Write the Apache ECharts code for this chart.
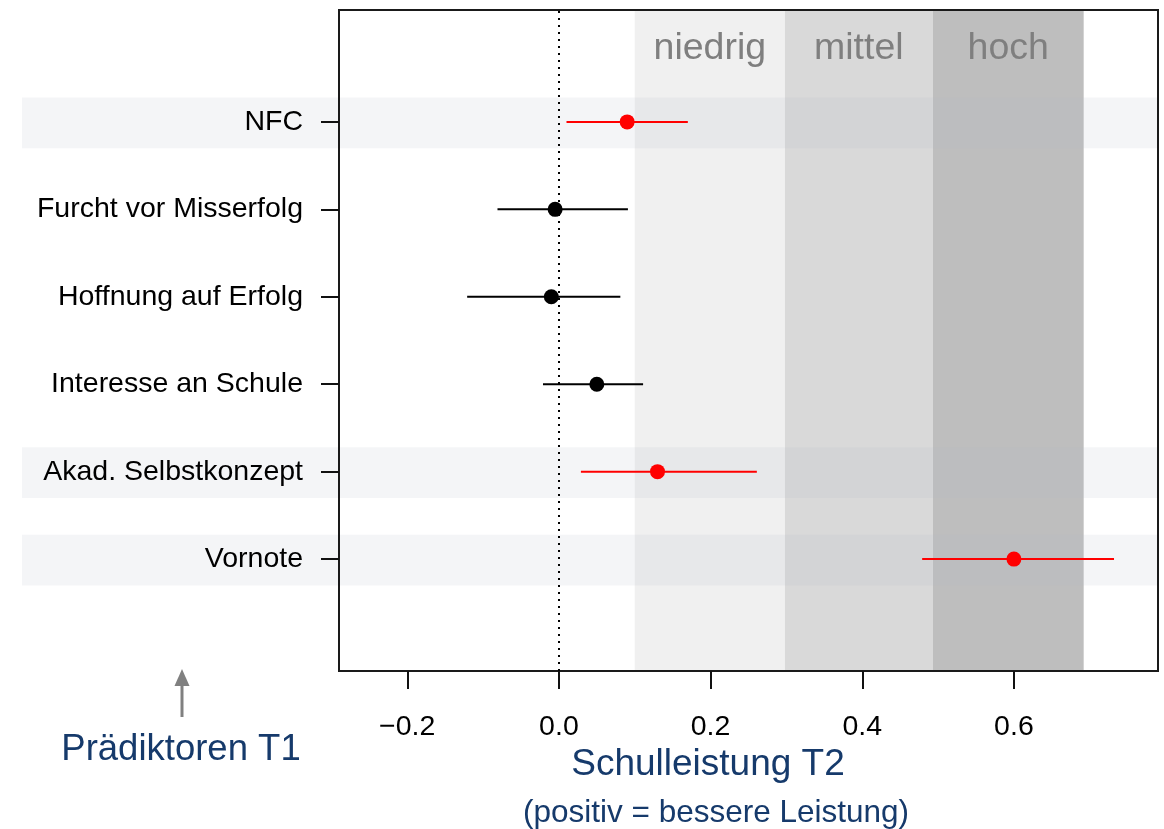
<!DOCTYPE html>
<html>
<head>
<meta charset="utf-8">
<script src="https://cdn.jsdelivr.net/npm/echarts@6/dist/echarts.min.js"></script>
<style>
html,body{margin:0;padding:0;background:#fff;}
#chart{width:1164px;height:829px;}
</style>
</head>
<body>
<div id="chart"></div>
<script>
// ---- data ----
const predictors = ['NFC', 'Furcht vor Misserfolg', 'Hoffnung auf Erfolg', 'Interesse an Schule', 'Akad. Selbstkonzept', 'Vornote'];
const rowPos = [6, 5, 4, 3, 2, 1];
const estimates = [0.09, -0.005, -0.01, 0.05, 0.13, 0.60];
const ciLower = [0.01, -0.081, -0.121, -0.021, 0.029, 0.479];
const ciUpper = [0.17, 0.091, 0.081, 0.111, 0.261, 0.732];
const significant = [1, 0, 0, 0, 1, 1];
const bandLabels = ['niedrig', 'mittel', 'hoch'];
const bandStart = [0.1, 0.298, 0.493];
const bandEnd = [0.298, 0.493, 0.692];
const xTicks = [-0.2, 0.0, 0.2, 0.4, 0.6];

const FONT = "'Liberation Sans', Arial, Helvetica, sans-serif";
const bandColors = ['#f0f0f0', '#d9d9d9', '#bebebe'];
const NAVY = '#163a6b';

const chart = echarts.init(document.getElementById('chart'), null, {renderer: 'canvas'});

const labelByPos = {};
rowPos.forEach((p, i) => { labelByPos[p] = predictors[i]; });

const option = {
  animation: false,
  grid: {left: 339, top: 10, right: 6, bottom: 158, show: true, borderColor: '#1a1a1a', borderWidth: 2, backgroundColor: 'transparent'},
  xAxis: {
    type: 'value', min: -0.29, max: 0.79,
    splitLine: {show: false},
    axisLine: {show: false, onZero: false},
    axisTick: {show: true, customValues: xTicks, length: 18, lineStyle: {color: '#111', width: 2}},
    axisLabel: {
      customValues: xTicks, fontSize: 28.5, color: '#000', margin: 42, fontFamily: FONT,
      formatter: v => (v < 0 ? '\u2212' + Math.abs(v).toFixed(1) : v.toFixed(1))
    }
  },
  yAxis: {
    type: 'value', min: -0.28, max: 7.28,
    splitLine: {show: false},
    axisLine: {show: false, onZero: false},
    axisTick: {show: true, customValues: rowPos, length: 18, lineStyle: {color: '#111', width: 2}},
    axisLabel: {
      customValues: rowPos, fontSize: 28.5, color: '#000', margin: 36, fontFamily: FONT,
      formatter: v => labelByPos[Math.round(v)] || ''
    }
  },
  series: [
    {
      name: 'bands', type: 'custom', z: -2, silent: true,
      data: bandStart.map((s, i) => [s, bandEnd[i], i]),
      encode: {x: [0, 1]},
      renderItem: (params, api) => {
        const cs = params.coordSys;
        const x0 = api.coord([api.value(0), 0])[0];
        const x1 = api.coord([api.value(1), 0])[0];
        const i = api.value(2);
        return {
          type: 'group',
          children: [
            {type: 'rect', shape: {x: x0, y: cs.y + 1, width: x1 - x0, height: cs.height - 2}, style: {fill: bandColors[i]}},
            {type: 'text', x: (x0 + x1) / 2, y: cs.y + 39,
             style: {text: bandLabels[i], fill: '#7f7f7f', font: '37.5px ' + FONT, align: 'center', verticalAlign: 'middle'}}
          ]
        };
      }
    },
    {
      name: 'highlight', type: 'custom', z: -1, silent: true, clip: false,
      data: rowPos.filter((p, i) => significant[i]).map(p => [0, p]),
      encode: {x: 0, y: 1},
      renderItem: (params, api) => {
        const cs = params.coordSys;
        const yc = api.coord([0, api.value(1)])[1];
        const h = api.size([0, 0.58])[1];
        return {type: 'rect', shape: {x: 22, y: yc - h / 2 + 1, width: cs.x + cs.width - 22, height: h},
                style: {fill: 'rgba(176,184,200,0.145)'}};
      }
    },
    {
      name: 'ci', type: 'custom', z: 3, silent: true,
      data: rowPos.map((p, i) => [ciLower[i], ciUpper[i], p, significant[i]]),
      encode: {x: [0, 1], y: 2},
      renderItem: (params, api) => {
        const a = api.coord([api.value(0), api.value(2)]);
        const b = api.coord([api.value(1), api.value(2)]);
        return {type: 'line', shape: {x1: a[0], y1: a[1], x2: b[0], y2: b[1]},
                style: {stroke: api.value(3) ? '#ff0000' : '#000', lineWidth: 2}};
      },
      markLine: {
        silent: true, symbol: ['none', 'none'], label: {show: false},
        lineStyle: {color: '#000', type: [2, 5], width: 2},
        data: [{xAxis: 0}]
      }
    },
    {
      name: 'estimate', type: 'scatter', z: 4, symbol: 'circle', symbolSize: 15,
      data: rowPos.map((p, i) => ({value: [estimates[i], p], itemStyle: {color: significant[i] ? '#ff0000' : '#000', opacity: 1}}))
    }
  ],
  graphic: [
    {type: 'line', shape: {x1: 182, y1: 717, x2: 182, y2: 684}, style: {stroke: '#808080', lineWidth: 3}},
    {type: 'polygon', shape: {points: [[182, 669], [174.5, 686], [189.5, 686]]}, style: {fill: '#808080'}},
    {type: 'text', x: 181, y: 750, style: {text: 'Prädiktoren T1', fill: NAVY, font: '36.5px ' + FONT, align: 'center', verticalAlign: 'middle'}},
    {type: 'text', x: 708, y: 765, style: {text: 'Schulleistung T2', fill: NAVY, font: '37px ' + FONT, align: 'center', verticalAlign: 'middle'}},
    {type: 'text', x: 716, y: 813, style: {text: '(positiv = bessere Leistung)', fill: NAVY, font: '31.5px ' + FONT, align: 'center', verticalAlign: 'middle'}}
  ]
};
chart.setOption(option);
</script>
</body>
</html>
